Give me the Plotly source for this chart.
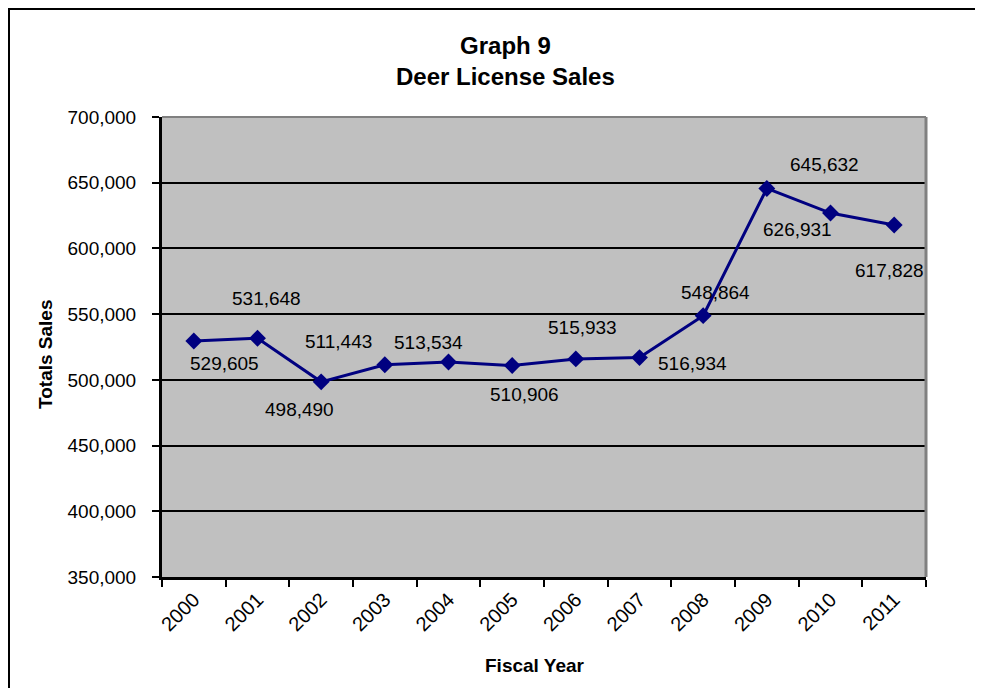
import plotly.graph_objects as go

years = ["2000", "2001", "2002", "2003", "2004", "2005", "2006", "2007", "2008", "2009", "2010", "2011"]
sales = [529605, 531648, 498490, 511443, 513534, 510906, 515933, 516934, 548864, 645632, 626931, 617828]

# label offsets in pixels (dx, dy) relative to each point
label_dx = [31, 9, -22, -46, -20, 12, 7, 53, 12, 58, -33, -5]
label_dy = [-23, 40, -28, 23, 20, -29, 31, -6, 23, 24, -16, -45]

FONT = "Liberation Sans, Arial, sans-serif"

# page body has an 8px margin; figure coordinates are offset accordingly
W, H = 967, 680
l, r, t, b = 154, 49, 109, 111
pw, ph = W - l - r, H - t - b


def px_x(px):
    return (px - l) / pw


def px_y(py):
    return (H - b - py) / ph


fig = go.Figure()
fig.add_trace(go.Scatter(
    x=list(range(len(years))), y=sales, mode="lines+markers",
    line=dict(color="#000080", width=3),
    marker=dict(symbol="diamond", size=13, color="#000080"),
    hoverinfo="y", showlegend=False,
))

for i, (v, dx, dy) in enumerate(zip(sales, label_dx, label_dy)):
    fig.add_annotation(x=i, y=v, xref="x", yref="y", text=f"{v:,}", showarrow=False,
                       xshift=dx, yshift=dy,
                       font=dict(family=FONT, size=19, color="black"))

fig.update_layout(
    width=W, height=H,
    margin=dict(l=l, r=r, t=t, b=b),
    paper_bgcolor="white", plot_bgcolor="#C0C0C0",
    font=dict(family=FONT, color="black"),
)

fig.update_xaxes(
    type="linear", range=[-0.5, 11.5],
    tickvals=list(range(len(years))), ticktext=years, ticks="",
    minor=dict(tickvals=[i - 0.5 for i in range(len(years) + 1)], ticks="outside",
               ticklen=7, tickwidth=2, tickcolor="black", showgrid=False),
    showline=True, linecolor="black", linewidth=3,
    showgrid=False, zeroline=False, tickangle=-45, tickfont=dict(size=20),
)
fig.update_yaxes(
    range=[350000, 700000], dtick=50000, tickformat=",", ticks="outside",
    ticklen=7, tickwidth=2, tickcolor="black", ticklabelstandoff=12,
    showline=True, linecolor="black", linewidth=3,
    showgrid=True, gridcolor="black", gridwidth=2, zeroline=False,
    tickfont=dict(size=19),
)

# titles
fig.add_annotation(xref="paper", yref="paper", x=px_x(497), y=px_y(53),
                   text="<b>Graph 9<br>Deer License Sales</b>", showarrow=False,
                   xanchor="center", yanchor="middle",
                   font=dict(family=FONT, size=24, color="black"))
fig.add_annotation(xref="paper", yref="paper", x=px_x(527), y=px_y(657),
                   text="<b>Fiscal Year</b>", showarrow=False,
                   xanchor="center", yanchor="middle",
                   font=dict(family=FONT, size=19, color="black"))
fig.add_annotation(xref="paper", yref="paper", x=px_x(37), y=px_y(347),
                   text="<b>Totals Sales</b>", showarrow=False, textangle=-90,
                   xanchor="center", yanchor="middle",
                   font=dict(family=FONT, size=19, color="black"))

# gray border on top/right of plot area
fig.add_shape(type="line", xref="paper", yref="paper", x0=1, x1=1, y0=0, y1=1,
              line=dict(color="#808080", width=3))
fig.add_shape(type="line", xref="paper", yref="paper", x0=0, x1=1, y0=1, y1=1,
              line=dict(color="#808080", width=2))
# outer frame (left and top black, bottom faint)
fig.add_shape(type="line", xref="paper", yref="paper",
              x0=px_x(0), x1=px_x(W + 5), y0=px_y(0.5), y1=px_y(0.5),
              line=dict(color="black", width=3))
fig.add_shape(type="line", xref="paper", yref="paper",
              x0=px_x(0.5), x1=px_x(0.5), y0=px_y(0), y1=px_y(H),
              line=dict(color="black", width=3))

fig.write_html("out.html")
